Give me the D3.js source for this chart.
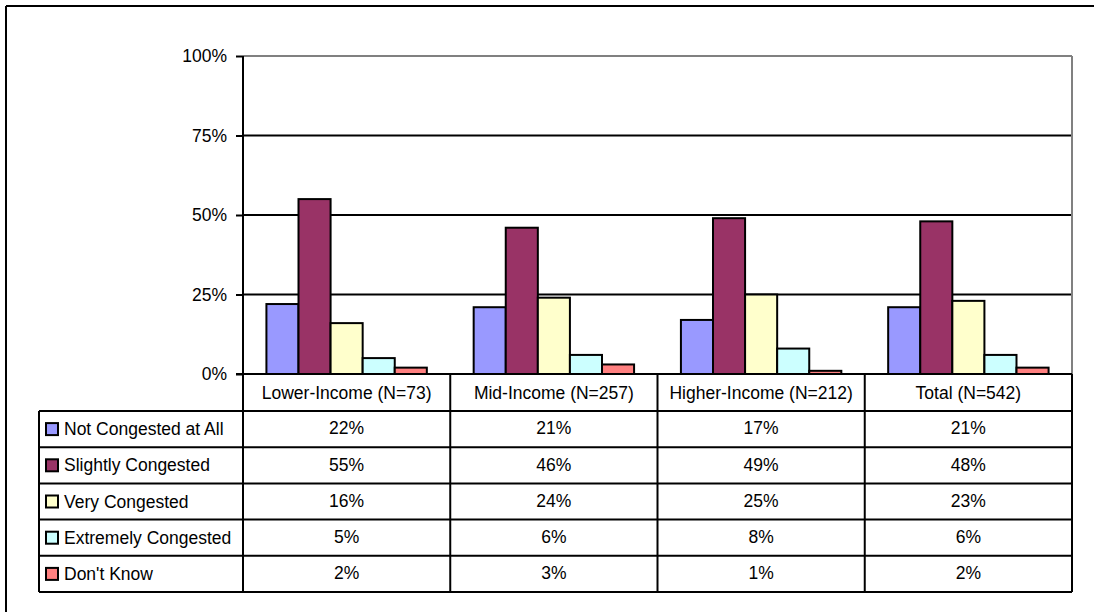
<!DOCTYPE html>
<html>
<head>
<meta charset="utf-8">
<script src="https://cdn.jsdelivr.net/npm/d3@7"></script>
<style>
  html, body { margin: 0; background: #fff; overflow: hidden; }
  svg { display: block; }
  text { font-family: 'Liberation Sans', Arial, sans-serif; }
</style>
</head>
<body>
<div id="chart"></div>
<script>
// categories, series and values
const categories = ['Lower-Income (N=73)', 'Mid-Income (N=257)', 'Higher-Income (N=212)', 'Total (N=542)']
const seriesNames = ['Not Congested at All', 'Slightly Congested', 'Very Congested', 'Extremely Congested', "Don't Know"]
const seriesColors = ['#9999ff', '#993366', '#ffffcc', '#ccffff', '#ff8080']
const notCongested = [0.22, 0.21, 0.17, 0.21]
const slightly = [0.55, 0.46, 0.49, 0.48]
const veryCongested = [0.16, 0.24, 0.25, 0.23]
const extremely = [0.05, 0.06, 0.08, 0.06]
const dontKnow = [0.02, 0.03, 0.01, 0.02]
const yTicks = [0, 0.25, 0.5, 0.75, 1]

const values = [notCongested, slightly, veryCongested, extremely, dontKnow]

const W = 1094, H = 612
const fontSize = '17.5px'
const plot = { left: 243, right: 1072, top: 56, bottom: 374 }
const table = { left: 39, header: 411, bottom: 592 }

const svg = d3.select('#chart').append('svg')
  .attr('width', W).attr('height', H)

// outer frame: only the top and left edges show in the picture
svg.append('line')
  .attr('x1', 6).attr('x2', W).attr('y1', 6).attr('y2', 6)
  .attr('stroke', '#000').attr('stroke-width', 2)
svg.append('line')
  .attr('x1', 6).attr('x2', 6).attr('y1', 6).attr('y2', H)
  .attr('stroke', '#000').attr('stroke-width', 2)

const x = d3.scaleBand().domain(categories).range([plot.left, plot.right])
const xSub = d3.scaleBand().domain(seriesNames).range([0, x.bandwidth()]).paddingOuter(0.73)
const y = d3.scaleLinear().domain([0, 1]).range([plot.bottom, plot.top])

// gridlines
svg.append('g')
  .selectAll('line')
  .data(yTicks.filter(d => d > 0))
  .join('line')
  .attr('x1', plot.left).attr('x2', plot.right)
  .attr('y1', d => y(d)).attr('y2', d => y(d))
  .attr('stroke', d => d === 1 ? '#808080' : '#000')
  .attr('stroke-width', 2)

// right plot border
svg.append('line')
  .attr('x1', plot.right).attr('x2', plot.right)
  .attr('y1', plot.top).attr('y2', plot.bottom)
  .attr('stroke', '#808080').attr('stroke-width', 2)

// bars
const rows = seriesNames.map((s, i) => categories.map((c, j) => ({ series: s, cat: c, value: values[i][j], color: seriesColors[i] })))
svg.append('g')
  .selectAll('rect')
  .data(rows.flat())
  .join('rect')
  .attr('x', d => x(d.cat) + xSub(d.series))
  .attr('y', d => y(d.value))
  .attr('width', xSub.bandwidth())
  .attr('height', d => y(0) - y(d.value))
  .attr('fill', d => d.color)
  .attr('stroke', '#000')
  .attr('stroke-width', 2)

// y axis
const yAxis = svg.append('g')
  .attr('transform', 'translate(' + plot.left + ',0)')
  .call(d3.axisLeft(y).tickValues(yTicks).tickFormat(d3.format('.0%')).tickSize(7).tickPadding(9))
yAxis.select('.domain').remove()
yAxis.selectAll('line').attr('stroke', '#000').attr('stroke-width', 2)
yAxis.selectAll('text').style('font-size', fontSize).attr('fill', '#000')

// axis line runs down through the table
svg.append('line')
  .attr('x1', plot.left).attr('x2', plot.left)
  .attr('y1', plot.top).attr('y2', table.bottom)
  .attr('stroke', '#000').attr('stroke-width', 2)

// x axis baseline
svg.append('line')
  .attr('x1', plot.left - 7).attr('x2', plot.right)
  .attr('y1', plot.bottom).attr('y2', plot.bottom)
  .attr('stroke', '#000').attr('stroke-width', 2)

// header cells with category labels
svg.append('g')
  .selectAll('line')
  .data(categories)
  .join('line')
  .attr('x1', d => x(d) + x.bandwidth()).attr('x2', d => x(d) + x.bandwidth())
  .attr('y1', plot.bottom).attr('y2', table.bottom)
  .attr('stroke', '#000').attr('stroke-width', 2)

svg.append('g')
  .selectAll('text')
  .data(categories)
  .join('text')
  .attr('x', d => x(d) + x.bandwidth() / 2)
  .attr('y', (plot.bottom + table.header) / 2)
  .attr('dy', '0.35em')
  .attr('text-anchor', 'middle')
  .style('font-size', fontSize)
  .text(d => d)

// data table
const rowY = d3.scaleBand().domain(seriesNames).range([table.header, table.bottom])

svg.append('g')
  .selectAll('line')
  .data(seriesNames)
  .join('line')
  .attr('x1', table.left).attr('x2', plot.right)
  .attr('y1', d => rowY(d)).attr('y2', d => rowY(d))
  .attr('stroke', '#000').attr('stroke-width', 2)

svg.append('line')
  .attr('x1', table.left).attr('x2', plot.right)
  .attr('y1', table.bottom).attr('y2', table.bottom)
  .attr('stroke', '#000').attr('stroke-width', 2)

svg.append('line')
  .attr('x1', table.left).attr('x2', table.left)
  .attr('y1', table.header).attr('y2', table.bottom)
  .attr('stroke', '#000').attr('stroke-width', 2)

// legend keys
const legend = svg.append('g')
  .selectAll('g')
  .data(seriesNames)
  .join('g')
  .attr('transform', d => 'translate(' + table.left + ',' + (rowY(d) + rowY.bandwidth() / 2) + ')')

legend.append('rect')
  .attr('x', 7).attr('y', -6)
  .attr('width', 12).attr('height', 12)
  .attr('fill', (d, i) => seriesColors[i])
  .attr('stroke', '#000').attr('stroke-width', 2)

legend.append('text')
  .attr('x', 25)
  .attr('dy', '0.35em')
  .style('font-size', fontSize)
  .text(d => d)

// cell values
svg.append('g')
  .selectAll('text')
  .data(rows.flat())
  .join('text')
  .attr('x', d => x(d.cat) + x.bandwidth() / 2)
  .attr('y', d => rowY(d.series) + rowY.bandwidth() / 2)
  .attr('dy', '0.3em')
  .attr('text-anchor', 'middle')
  .style('font-size', fontSize)
  .text(d => d3.format('.0%')(d.value))
</script>
</body>
</html>
